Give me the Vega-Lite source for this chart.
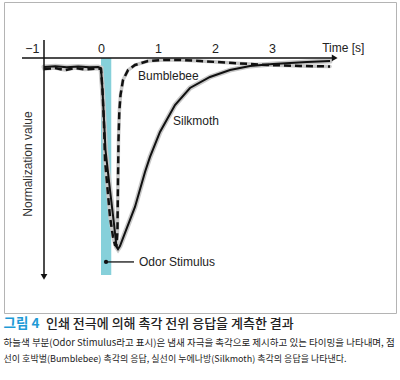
{
  "$schema": "https://vega.github.io/schema/vega-lite/v6.json",
  "width": 392,
  "height": 311,
  "autosize": "none",
  "padding": {"left": 4, "top": 2, "right": 4, "bottom": 67},
  "config": {"view": {"stroke": "#b4b4b4", "strokeWidth": 1}, "font": "Liberation Sans"},
  "datasets": {
    "stimulus": [{"label": "Odor Stimulus", "t": 0, "t2": 0.18, "v": -0.05, "v2": 1.149}],
    "axes": [
      {"axis": "x", "t": -1.386, "t2": 4.1, "v": -0.05, "v2": -0.05},
      {"axis": "y", "t": -1.0, "t2": -1.0, "v": -0.149, "v2": 1.16}
    ],
    "arrows": [
      {"axis": "x", "t": 4.1, "v": -0.05, "shape": "triangle-right"},
      {"axis": "y", "t": -1.0, "v": 1.16, "shape": "triangle-down"}
    ],
    "curves": [
      {"series": "Silkmoth", "t": -1.0, "v": 0.0},
      {"series": "Silkmoth", "t": -0.8, "v": -0.004},
      {"series": "Silkmoth", "t": -0.6, "v": 0.002},
      {"series": "Silkmoth", "t": -0.4, "v": -0.003},
      {"series": "Silkmoth", "t": -0.2, "v": 0.001},
      {"series": "Silkmoth", "t": -0.05, "v": 0.0},
      {"series": "Silkmoth", "t": 0.0, "v": 0.006},
      {"series": "Silkmoth", "t": 0.026, "v": 0.127},
      {"series": "Silkmoth", "t": 0.053, "v": 0.293},
      {"series": "Silkmoth", "t": 0.079, "v": 0.459},
      {"series": "Silkmoth", "t": 0.158, "v": 0.68},
      {"series": "Silkmoth", "t": 0.228, "v": 0.867},
      {"series": "Silkmoth", "t": 0.272, "v": 0.994},
      {"series": "Silkmoth", "t": 0.298, "v": 1.006},
      {"series": "Silkmoth", "t": 0.333, "v": 0.989},
      {"series": "Silkmoth", "t": 0.421, "v": 0.917},
      {"series": "Silkmoth", "t": 0.596, "v": 0.773},
      {"series": "Silkmoth", "t": 0.772, "v": 0.58},
      {"series": "Silkmoth", "t": 0.86, "v": 0.497},
      {"series": "Silkmoth", "t": 1.035, "v": 0.359},
      {"series": "Silkmoth", "t": 1.298, "v": 0.21},
      {"series": "Silkmoth", "t": 1.561, "v": 0.116},
      {"series": "Silkmoth", "t": 1.912, "v": 0.055},
      {"series": "Silkmoth", "t": 2.263, "v": 0.017},
      {"series": "Silkmoth", "t": 2.614, "v": -0.006},
      {"series": "Silkmoth", "t": 3.018, "v": -0.017},
      {"series": "Silkmoth", "t": 3.614, "v": -0.028},
      {"series": "Silkmoth", "t": 4.018, "v": -0.033},
      {"series": "Bumblebee", "t": -1.0, "v": 0.011},
      {"series": "Bumblebee", "t": -0.807, "v": 0.006},
      {"series": "Bumblebee", "t": -0.632, "v": 0.017},
      {"series": "Bumblebee", "t": -0.456, "v": 0.006},
      {"series": "Bumblebee", "t": -0.281, "v": 0.014},
      {"series": "Bumblebee", "t": -0.07, "v": 0.008},
      {"series": "Bumblebee", "t": 0.0, "v": 0.011},
      {"series": "Bumblebee", "t": 0.026, "v": 0.127},
      {"series": "Bumblebee", "t": 0.053, "v": 0.32},
      {"series": "Bumblebee", "t": 0.07, "v": 0.514},
      {"series": "Bumblebee", "t": 0.158, "v": 0.829},
      {"series": "Bumblebee", "t": 0.211, "v": 0.939},
      {"series": "Bumblebee", "t": 0.246, "v": 0.983},
      {"series": "Bumblebee", "t": 0.272, "v": 0.989},
      {"series": "Bumblebee", "t": 0.289, "v": 0.901},
      {"series": "Bumblebee", "t": 0.298, "v": 0.624},
      {"series": "Bumblebee", "t": 0.307, "v": 0.403},
      {"series": "Bumblebee", "t": 0.321, "v": 0.249},
      {"series": "Bumblebee", "t": 0.342, "v": 0.155},
      {"series": "Bumblebee", "t": 0.386, "v": 0.072},
      {"series": "Bumblebee", "t": 0.474, "v": 0.017},
      {"series": "Bumblebee", "t": 0.596, "v": -0.011},
      {"series": "Bumblebee", "t": 0.825, "v": -0.033},
      {"series": "Bumblebee", "t": 1.123, "v": -0.039},
      {"series": "Bumblebee", "t": 1.386, "v": -0.039},
      {"series": "Bumblebee", "t": 1.737, "v": -0.033},
      {"series": "Bumblebee", "t": 2.316, "v": -0.022},
      {"series": "Bumblebee", "t": 2.912, "v": -0.011},
      {"series": "Bumblebee", "t": 3.491, "v": -0.006},
      {"series": "Bumblebee", "t": 4.018, "v": -0.003}
    ],
    "labels": [
      {"text": "Bumblebee", "t": 0.649, "v": 0.05},
      {"text": "Silkmoth", "t": 1.263, "v": 0.301},
      {"text": "Odor Stimulus", "t": 0.667, "v": 1.077},
      {"text": "Time [s]", "t": 3.88, "v": -0.105}
    ],
    "leader": [{"t": 0.088, "t2": 0.579, "v": 1.077}],
    "ytitle": [{"text": "Normalization value", "t": -1.281, "v": 0.536}],
    "figno": [{"text": "그림 4", "t": -1.71, "v": 1.42}],
    "caption": [
      {"text": "인쇄 전극에 의해 촉각 전위 응답을 계측한 결과", "size": "large", "t": -0.965, "v": 1.42},
      {"text": "하늘색 부분(Odor Stimulus라고 표시)은 냄새 자극을 촉각으로 제시하고 있는 타이밍을 나타내며, 점", "size": "medium", "t": -1.71, "v": 1.525},
      {"text": "선이 호박벌(Bumblebee) 촉각의 응답, 실선이 누에나방(Silkmoth) 촉각의 응답을 나타낸다.", "size": "small", "t": -1.71, "v": 1.613}
    ]
  },
  "encoding": {
    "x": {
      "field": "t", "type": "quantitative",
      "scale": {"domain": [-1.7018, 5.1754], "nice": false, "zero": false},
      "axis": {
        "orient": "top", "offset": -56, "domain": false, "ticks": false, "grid": false,
        "values": [-1, 0, 1, 2, 3], "title": null,
        "labelExpr": "datum.value < 0 ? '−1' : datum.label",
        "labelFont": "Liberation Sans", "labelFontSize": 12.5, "labelColor": "#222",
        "labelPadding": 3, "labelOverlap": false,
        "labelAlign": {"condition": {"test": "datum.value < 0", "value": "right"}, "value": "center"},
        "labelOffset": {"condition": {"test": "datum.value < 0", "value": -5}, "value": 0}
      }
    },
    "y": {
      "field": "v", "type": "quantitative",
      "scale": {"domain": [-0.3591, 1.3591], "nice": false, "zero": false, "reverse": true},
      "axis": null
    }
  },
  "layer": [
    {
      "data": {"name": "stimulus"},
      "mark": {"type": "rect", "color": "#86d0da"},
      "encoding": {"x2": {"field": "t2"}, "y2": {"field": "v2"}}
    },
    {
      "data": {"name": "curves"},
      "transform": [{"filter": "datum.series == 'Silkmoth'"}],
      "mark": {"type": "line", "color": "#c8c8c8", "strokeWidth": 5, "strokeCap": "round"},
      "encoding": {}
    },
    {
      "data": {"name": "curves"},
      "transform": [{"filter": "datum.series == 'Bumblebee'"}],
      "mark": {"type": "line", "color": "#c8c8c8", "strokeWidth": 3.5, "strokeCap": "round"},
      "encoding": {}
    },
    {
      "data": {"name": "curves"},
      "transform": [{"filter": "datum.series == 'Silkmoth'"}],
      "mark": {"type": "line", "color": "#111", "strokeWidth": 2},
      "encoding": {}
    },
    {
      "data": {"name": "curves"},
      "transform": [{"filter": "datum.series == 'Bumblebee'"}],
      "mark": {"type": "line", "color": "#111", "strokeWidth": 2.5, "strokeDash": [7, 4]},
      "encoding": {}
    },
    {
      "data": {"name": "axes"},
      "mark": {"type": "rule", "color": "#111", "strokeWidth": 1.5},
      "encoding": {"x2": {"field": "t2"}, "y2": {"field": "v2"}}
    },
    {
      "data": {"name": "arrows"},
      "mark": {"type": "point", "filled": true, "color": "#111", "size": 45, "opacity": 1},
      "encoding": {"shape": {"field": "shape", "type": "nominal", "scale": null}}
    },
    {
      "data": {"name": "leader"},
      "mark": {"type": "rule", "color": "#111", "strokeWidth": 1.3},
      "encoding": {"x2": {"field": "t2"}}
    },
    {
      "data": {"name": "leader"},
      "mark": {"type": "point", "filled": true, "color": "#111", "size": 18, "opacity": 1},
      "encoding": {}
    },
    {
      "data": {"name": "labels"},
      "mark": {"type": "text", "align": "left", "baseline": "middle", "fontSize": 12, "color": "#222", "font": "Liberation Sans"},
      "encoding": {"text": {"field": "text"}}
    },
    {
      "data": {"name": "ytitle"},
      "mark": {"type": "text", "align": "center", "baseline": "middle", "angle": 270, "fontSize": 12, "color": "#333", "font": "Liberation Sans"},
      "encoding": {"text": {"field": "text"}}
    },
    {
      "data": {"name": "figno"},
      "mark": {"type": "text", "align": "left", "baseline": "middle", "fontSize": 13.5, "color": "#1e9ad6", "font": "Noto Sans CJK KR", "fontWeight": "bold"},
      "encoding": {"text": {"field": "text"}}
    },
    {
      "data": {"name": "caption"},
      "transform": [{"filter": "datum.size == 'large'"}],
      "mark": {"type": "text", "align": "left", "baseline": "middle", "fontSize": 13, "color": "#222", "font": "Noto Sans CJK KR", "fontWeight": 500},
      "encoding": {"text": {"field": "text"}}
    },
    {
      "data": {"name": "caption"},
      "transform": [{"filter": "datum.size == 'medium'"}],
      "mark": {"type": "text", "align": "left", "baseline": "middle", "fontSize": 9.5, "color": "#222", "font": "Noto Sans CJK KR"},
      "encoding": {"text": {"field": "text"}}
    },
    {
      "data": {"name": "caption"},
      "transform": [{"filter": "datum.size == 'small'"}],
      "mark": {"type": "text", "align": "left", "baseline": "middle", "fontSize": 9, "color": "#222", "font": "Noto Sans CJK KR"},
      "encoding": {"text": {"field": "text"}}
    }
  ]
}
